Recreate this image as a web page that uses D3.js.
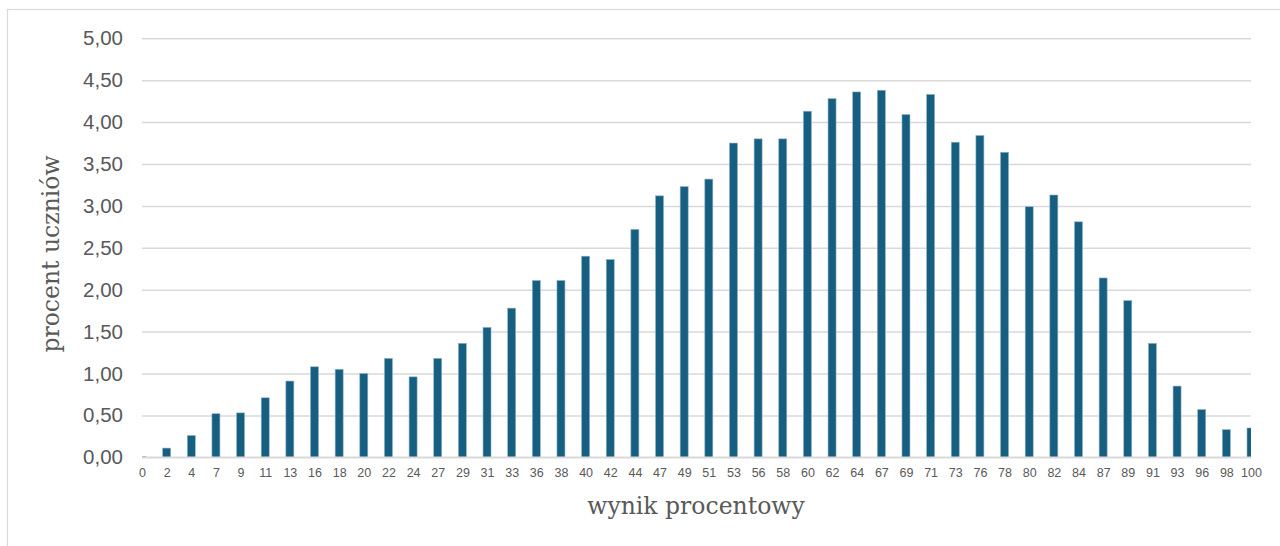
<!DOCTYPE html>
<html>
<head>
<meta charset="utf-8">
<script src="https://cdn.jsdelivr.net/npm/d3@7"></script>
<style>
  html, body { margin: 0; padding: 0; background: #fff; }
  svg { display: block; }
</style>
</head>
<body>
<svg id="chart" width="1280" height="546"></svg>
<script>
const categories = ["0","2","4","7","9","11","13","16","18","20","22","24","27","29","31","33","36","38","40","42","44","47","49","51","53","56","58","60","62","64","67","69","71","73","76","78","80","82","84","87","89","91","93","96","98","100"];
const values = [0.01,0.11,0.26,0.52,0.53,0.71,0.91,1.08,1.05,1.00,1.18,0.96,1.18,1.36,1.55,1.78,2.11,2.11,2.40,2.36,2.72,3.12,3.23,3.32,3.75,3.80,3.80,4.13,4.28,4.36,4.38,4.09,4.33,3.76,3.84,3.64,2.99,3.13,2.81,2.14,1.87,1.36,0.85,0.57,0.33,0.35];
const yTicks = [0,0.5,1,1.5,2,2.5,3,3.5,4,4.5,5];
const xTitle = "wynik procentowy";
const yTitle = "procent uczniów";

(function () {
const svg = d3.select("#chart");
const pLeft = 142, pRight = 1251, pTop = 38.3, pBottom = 457.3;

// outer border
svg.append("rect").attr("x", 7.5).attr("y", 9.5).attr("width", 1290).attr("height", 560)
  .attr("fill", "none").attr("stroke", "#d9d9d9").attr("stroke-width", 1.2);

const x = d3.scalePoint().domain(categories).range([pLeft, pRight]).padding(0);
const y = d3.scaleLinear().domain([0, 5]).range([pBottom, pTop]);
const fmt = d => d.toFixed(2).replace(".", ",");

// gridlines + y labels
const yAxis = d3.axisLeft(y).tickValues(yTicks).tickFormat(fmt).tickSize(-(pRight - pLeft)).tickPadding(19);
const gy = svg.append("g").attr("transform", `translate(${pLeft},0)`).call(yAxis);
gy.select(".domain").remove();
gy.selectAll(".tick line").attr("stroke", "#d9d9d9").attr("stroke-width", 1.5);
gy.selectAll(".tick text").attr("fill", "#595959").attr("font-family", "Liberation Sans, Arial, sans-serif").attr("font-size", "20.5px");

// clip for bars
svg.append("clipPath").attr("id", "plotclip").append("rect")
  .attr("x", pLeft).attr("y", 0).attr("width", pRight - pLeft).attr("height", pBottom);

const barW = 8;
svg.append("g").attr("clip-path", "url(#plotclip)")
  .selectAll("rect").data(values).join("rect")
  .attr("x", (d, i) => x(categories[i]) - barW / 2)
  .attr("y", d => y(d))
  .attr("width", barW)
  .attr("height", d => y(0) - y(d))
  .attr("fill", "#175f80")
  .attr("stroke", "#8fb2c6")
  .attr("stroke-width", 0.6);

// baseline
svg.append("line").attr("x1", pLeft).attr("x2", pRight).attr("y1", y(0)).attr("y2", y(0))
  .attr("stroke", "#d9d9d9").attr("stroke-width", 1.5);

// x labels
const xAxis = d3.axisBottom(x).tickSize(0).tickPadding(11);
const gx = svg.append("g").attr("transform", `translate(0,${pBottom})`).call(xAxis);
gx.select(".domain").remove();
gx.selectAll(".tick text").attr("fill", "#595959").attr("font-family", "Liberation Sans, Arial, sans-serif").attr("font-size", "12.5px");

// titles
svg.append("text").attr("x", 696).attr("y", 514)
  .attr("text-anchor", "middle").attr("fill", "#595959")
  .attr("font-family", "DejaVu Serif, serif").attr("font-size", "23.5px").text(xTitle);
svg.append("text").attr("transform", "translate(59,254) rotate(-90)")
  .attr("text-anchor", "middle").attr("fill", "#595959")
  .attr("font-family", "DejaVu Serif, serif").attr("font-size", "23.5px").text(yTitle);
})();
</script>
</body>
</html>
